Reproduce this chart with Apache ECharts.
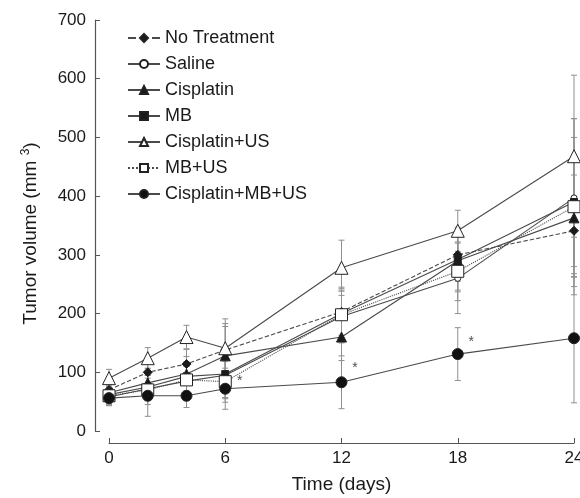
<!DOCTYPE html>
<html><head><meta charset="utf-8">
<script src="https://cdn.jsdelivr.net/npm/echarts@6/dist/echarts.min.js"></script>
<style>html,body{margin:0;padding:0;background:#fff;overflow:hidden}#c{width:580px;height:498px}</style>
</head><body><div id="c"></div>
<script>
var days = [0, 2, 4, 6, 12, 18, 24];
var seriesNames = ['No Treatment', 'Saline', 'Cisplatin', 'MB', 'Cisplatin+US', 'MB+US', 'Cisplatin+MB+US'];
var noTreatment   = [70, 100, 114, 138, 203, 300, 341];
var saline        = [58, 72, 85, 95, 195, 260, 397];
var cisplatin     = [65, 82, 97, 128, 160, 290, 363];
var mb            = [62, 75, 93, 97, 200, 292, 390];
var cisplatinUS   = [90, 124, 160, 141, 278, 341, 468];
var mbUS          = [60, 70, 87, 84, 198, 272, 382];
var cisplatinMBUS = [56, 60, 60, 72, 83, 131, 158];
var sdNoTreatment   = [18, 20, 25, 45, 40, 45, 95];
var sdSaline        = [15, 18, 25, 40, 45, 60, 135];
var sdCisplatin     = [18, 25, 30, 50, 40, 50, 100];
var sdMB            = [15, 20, 25, 40, 45, 55, 110];
var sdCisplatinUS   = [15, 18, 20, 50, 47, 35, 138];
var sdMBUS          = [15, 25, 25, 35, 40, 50, 150];
var sdCisplatinMBUS = [12, 35, 20, 35, 45, 45, 110];
var starDays   = [6.75, 12.7, 18.7];
var starValues = [85, 107, 152];
var yTicks = [0, 100, 200, 300, 400, 500, 600, 700];
var xTicks = [0, 6, 12, 18, 24];

var values = [noTreatment, saline, cisplatin, mb, cisplatinUS, mbUS, cisplatinMBUS];
var sds = [sdNoTreatment, sdSaline, sdCisplatin, sdMB, sdCisplatinUS, sdMBUS, sdCisplatinMBUS];
var styles = [
  {symbol: 'diamond', size: 9, fill: '#1a1a1a', line: 'dashed'},
  {symbol: 'circle', size: 6, fill: '#fff', line: 'solid'},
  {symbol: 'triangle', size: 10, fill: '#1a1a1a', line: 'solid'},
  {symbol: 'rect', size: 7, fill: '#1a1a1a', line: 'solid'},
  {symbol: 'triangle', size: 13, fill: '#fff', line: 'solid'},
  {symbol: 'rect', size: 12, fill: '#fff', line: 'dotted'},
  {symbol: 'circle', size: 11, fill: '#111', line: 'solid'}
];
var FONT = 'Liberation Sans, Arial, sans-serif';
var series = [];
values.forEach(function (vals, i) {
  var errData = days.map(function (d, k) { return [d, vals[k], sds[i][k]]; });
  series.push({
    type: 'custom', name: seriesNames[i] + ' err', z: 1, silent: true,
    data: errData, encode: {x: 0, y: 1}, clip: false,
    renderItem: function (params, api) {
      var x = api.value(0), y = api.value(1), s = api.value(2);
      var top = api.coord([x, y + s]), bot = api.coord([x, Math.max(0, y - s)]);
      var w = 3;
      var st = {stroke: '#8f8f8f', lineWidth: 1};
      return {type: 'group', children: [
        {type: 'line', shape: {x1: top[0], y1: top[1], x2: bot[0], y2: bot[1]}, style: st},
        {type: 'line', shape: {x1: top[0] - w, y1: top[1], x2: top[0] + w, y2: top[1]}, style: st},
        {type: 'line', shape: {x1: bot[0] - w, y1: bot[1], x2: bot[0] + w, y2: bot[1]}, style: st}
      ]};
    }
  });
});
values.forEach(function (vals, i) {
  var st = styles[i];
  series.push({
    type: 'line', name: seriesNames[i], z: 3 + i,
    data: days.map(function (d, k) { return [d, vals[k]]; }),
    symbol: st.symbol, symbolSize: st.size, showAllSymbol: true,
    lineStyle: {color: '#4a4a4a', width: 1.1, type: st.line},
    itemStyle: {color: st.fill, borderColor: '#222', borderWidth: 1, opacity: 1},
    emphasis: {disabled: true}, animation: false
  });
});
series.push({
  type: 'scatter', name: 'stars', symbolSize: 0, z: 20,
  data: starDays.map(function (d, k) { return [d, starValues[k]]; }),
  label: {show: true, formatter: '*', position: 'inside', fontSize: 14, color: '#222', fontFamily: FONT}
});

var chart = echarts.init(document.getElementById('c'), null, {renderer: 'canvas', width: 580, height: 498});
chart.setOption({
  animation: false,
  backgroundColor: '#fff',
  grid: {left: 109, width: 465, top: 20, height: 411, containLabel: false, outerBoundsMode: 'none'},
  legend: {
    data: seriesNames, orient: 'vertical', left: 122, top: 23,
    itemWidth: 32, itemHeight: 10, itemGap: 6,
    textStyle: {fontSize: 18, color: '#1a1a1a', fontFamily: FONT, lineHeight: 20}
  },
  xAxis: {
    type: 'value', min: 0, max: 24, interval: 6, offset: 12,
    name: 'Time (days)', nameLocation: 'middle', nameGap: 32,
    nameTextStyle: {fontSize: 19, color: '#1a1a1a', fontFamily: FONT},
    axisLine: {show: true, onZero: false, lineStyle: {color: '#555', width: 1.2}},
    axisTick: {show: true, inside: true, length: 5, lineStyle: {color: '#555'}},
    axisLabel: {fontSize: 17, color: '#1a1a1a', fontFamily: FONT, margin: 7, hideOverlap: false,
      formatter: function (v) { return xTicks.indexOf(v) >= 0 ? String(v) : ''; }},
    splitLine: {show: false}
  },
  yAxis: {
    type: 'value', min: 0, max: 700, interval: 100, offset: 14,
    name: 'Tumor volume (mm {sup|3})', nameLocation: 'middle', nameGap: 53,
    nameTextStyle: {fontSize: 19, color: '#1a1a1a', fontFamily: FONT, padding: [0, 16, 0, 0],
      rich: {sup: {fontSize: 12, verticalAlign: 'top', padding: [0, 0, 10, 0], color: '#1a1a1a', fontFamily: FONT}}},
    axisLine: {show: true, onZero: false, lineStyle: {color: '#555', width: 1.2}},
    axisTick: {show: true, inside: true, length: 5, lineStyle: {color: '#555'}},
    axisLabel: {fontSize: 17, color: '#1a1a1a', fontFamily: FONT, margin: 9,
      formatter: function (v) { return yTicks.indexOf(v) >= 0 ? String(v) : ''; }},
    splitLine: {show: false}
  },
  series: series
});
</script></body></html>
